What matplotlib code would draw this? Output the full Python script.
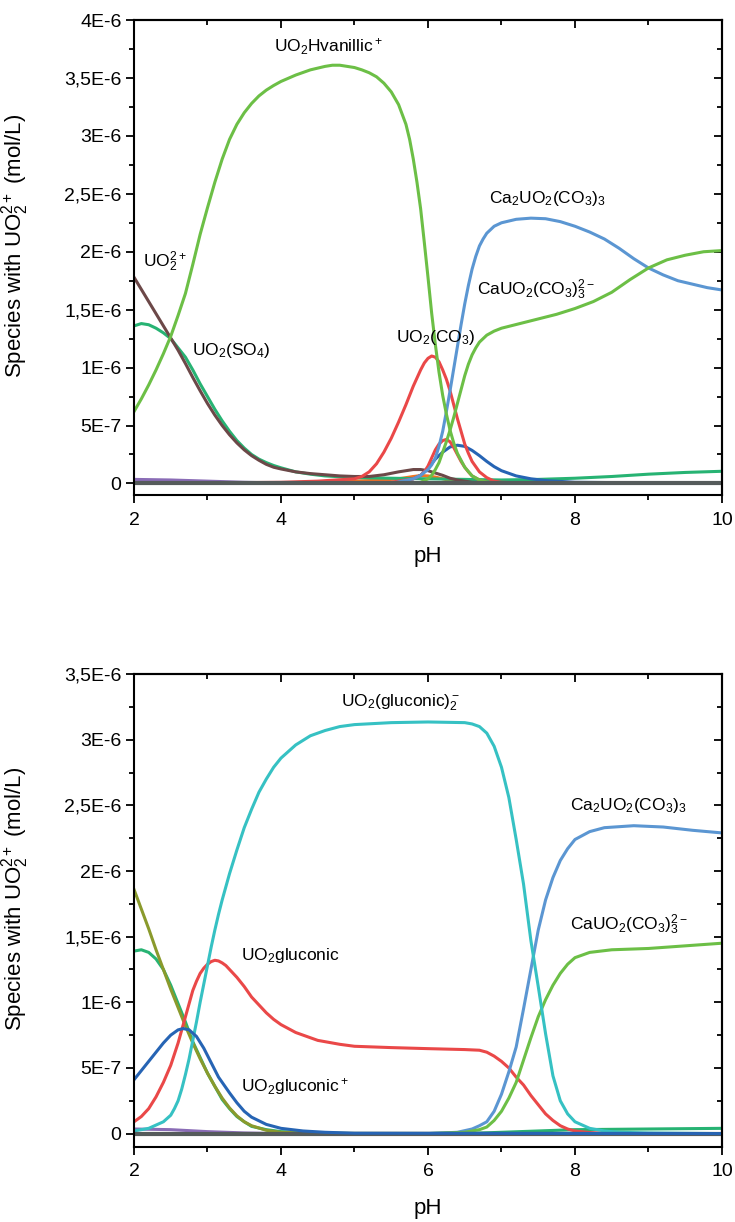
import matplotlib
matplotlib.use("Agg")
import matplotlib.pyplot as plt
from matplotlib.ticker import FixedLocator, MultipleLocator

plt.rcParams['font.family'] = ['Liberation Sans', 'DejaVu Sans']
plt.rcParams['mathtext.fontset'] = 'custom'
plt.rcParams['mathtext.rm'] = 'Liberation Sans'
plt.rcParams['mathtext.it'] = 'Liberation Sans:italic'
plt.rcParams['mathtext.bf'] = 'Liberation Sans:bold'

# ---------------- top panel (vanillic system), values in 1E-6 mol/L ----------------
top_vanillic_ph = [2.0, 2.1, 2.2, 2.3, 2.4, 2.5, 2.6, 2.7, 2.8, 2.9, 3.0, 3.1, 3.2, 3.3, 3.4,
                   3.5, 3.6, 3.7, 3.8, 3.9, 4.0, 4.2, 4.4, 4.6, 4.7, 4.8, 4.9, 5.0, 5.1, 5.2,
                   5.3, 5.4, 5.5, 5.6, 5.7, 5.75, 5.8, 5.85, 5.9, 5.95, 6.0, 6.05, 6.1, 6.15,
                   6.2, 6.25, 6.3, 6.35, 6.4, 6.5, 6.6, 6.7, 6.8, 6.9, 7.0, 10.0]
top_vanillic = [0.62, 0.73, 0.85, 0.98, 1.12, 1.27, 1.45, 1.64, 1.89, 2.15, 2.38, 2.60, 2.80,
                2.97, 3.10, 3.20, 3.28, 3.345, 3.395, 3.435, 3.47, 3.525, 3.57, 3.60, 3.61,
                3.61, 3.60, 3.59, 3.57, 3.545, 3.51, 3.455, 3.38, 3.27, 3.10, 2.97, 2.80,
                2.60, 2.37, 2.08, 1.78, 1.47, 1.20, 0.96, 0.76, 0.60, 0.46, 0.35, 0.26,
                0.14, 0.065, 0.03, 0.012, 0.005, 0.0, 0.0]

top_caco3_ph = [2.0, 5.8, 5.9, 6.0, 6.05, 6.1, 6.15, 6.2, 6.25, 6.3, 6.35, 6.4, 6.45, 6.5,
                6.55, 6.6, 6.65, 6.7, 6.8, 6.9, 7.0, 7.25, 7.5, 7.75, 8.0, 8.25, 8.5, 8.75,
                9.0, 9.25, 9.5, 9.75, 10.0]
top_caco3 = [0.0, 0.0, 0.01, 0.04, 0.07, 0.12, 0.18, 0.27, 0.36, 0.46, 0.57, 0.69, 0.81, 0.93,
             1.03, 1.11, 1.17, 1.22, 1.28, 1.315, 1.34, 1.38, 1.42, 1.46, 1.51, 1.57, 1.65,
             1.76, 1.86, 1.93, 1.97, 2.0, 2.01]

top_ca2_ph = [2.0, 5.5, 5.8, 5.9, 6.0, 6.05, 6.1, 6.15, 6.2, 6.25, 6.3, 6.35, 6.4, 6.45, 6.5,
              6.55, 6.6, 6.65, 6.7, 6.75, 6.8, 6.9, 7.0, 7.2, 7.4, 7.6, 7.8, 8.0, 8.2, 8.4,
              8.6, 8.8, 9.0, 9.2, 9.4, 9.6, 9.8, 10.0]
top_ca2 = [0.0, 0.0, 0.04, 0.07, 0.12, 0.16, 0.22, 0.32, 0.45, 0.62, 0.80, 0.99, 1.18, 1.37,
           1.55, 1.71, 1.85, 1.96, 2.05, 2.11, 2.16, 2.22, 2.25, 2.28, 2.29, 2.285, 2.26,
           2.22, 2.17, 2.11, 2.03, 1.94, 1.86, 1.80, 1.75, 1.72, 1.69, 1.67]

top_co3_ph = [2.0, 4.0, 4.5, 5.0, 5.1, 5.2, 5.3, 5.4, 5.5, 5.6, 5.7, 5.8, 5.9, 5.95, 6.0,
              6.05, 6.1, 6.15, 6.2, 6.25, 6.3, 6.35, 6.4, 6.45, 6.5, 6.55, 6.6, 6.7, 6.8,
              6.9, 7.0, 7.5, 10.0]
top_co3 = [0.0, 0.01, 0.02, 0.04, 0.06, 0.10, 0.17, 0.27, 0.39, 0.53, 0.68, 0.84, 0.98, 1.04,
           1.08, 1.10, 1.09, 1.05, 0.98, 0.90, 0.80, 0.68, 0.56, 0.45, 0.34, 0.26, 0.19,
           0.10, 0.05, 0.02, 0.01, 0.0, 0.0]

top_red2_ph = [2.0, 5.5, 5.8, 5.9, 5.95, 6.0, 6.05, 6.1, 6.15, 6.2, 6.25, 6.3, 6.35, 6.4,
               6.45, 6.5, 6.55, 6.6, 6.7, 6.8, 7.0, 10.0]
top_red2 = [0.0, 0.01, 0.04, 0.07, 0.10, 0.15, 0.22, 0.29, 0.34, 0.37, 0.38, 0.36, 0.31, 0.25,
            0.19, 0.14, 0.10, 0.065, 0.03, 0.01, 0.0, 0.0]

top_dblue_ph = [2.0, 5.5, 5.8, 5.9, 6.0, 6.1, 6.2, 6.3, 6.4, 6.5, 6.6, 6.7, 6.8, 6.9, 7.0,
                7.2, 7.4, 7.6, 8.0, 10.0]
top_dblue = [0.0, 0.0, 0.04, 0.07, 0.13, 0.21, 0.27, 0.315, 0.33, 0.32, 0.285, 0.24, 0.19,
             0.145, 0.11, 0.065, 0.04, 0.025, 0.01, 0.0]

top_uo2_ph = [2.0, 2.1, 2.2, 2.3, 2.4, 2.5, 2.6, 2.7, 2.8, 2.9, 3.0, 3.1, 3.2, 3.3, 3.4, 3.5,
              3.6, 3.7, 3.8, 3.9, 4.0, 4.2, 4.4, 4.6, 4.8, 5.0, 5.2, 5.4, 5.6, 5.8, 5.9,
              6.0, 6.1, 6.2, 6.3, 6.4, 6.6, 7.0, 10.0]
top_uo2 = [1.78, 1.675, 1.57, 1.465, 1.36, 1.255, 1.15, 1.035, 0.915, 0.80, 0.69, 0.59, 0.50,
           0.42, 0.35, 0.29, 0.24, 0.20, 0.165, 0.14, 0.125, 0.10, 0.085, 0.075, 0.065,
           0.06, 0.06, 0.075, 0.10, 0.12, 0.12, 0.11, 0.09, 0.07, 0.045, 0.03, 0.01, 0.0,
           0.0]

top_so4_ph = [2.0, 2.1, 2.2, 2.3, 2.4, 2.5, 2.6, 2.7, 2.8, 2.9, 3.0, 3.1, 3.2, 3.3, 3.4, 3.5,
              3.6, 3.7, 3.8, 3.9, 4.0, 4.2, 4.4, 4.6, 5.0, 5.5, 6.0, 6.5, 7.0, 7.5, 8.0,
              8.5, 9.0, 9.5, 10.0]
top_so4 = [1.36, 1.38, 1.37, 1.34, 1.30, 1.25, 1.17, 1.09, 0.98, 0.86, 0.75, 0.64, 0.54, 0.45,
           0.37, 0.305, 0.25, 0.21, 0.18, 0.155, 0.135, 0.10, 0.08, 0.065, 0.05, 0.045,
           0.04, 0.035, 0.03, 0.035, 0.045, 0.06, 0.08, 0.095, 0.105]

top_orange_ph = [2.0, 4.0, 5.0, 5.4, 5.6, 5.8, 5.9, 6.0, 6.1, 6.2, 6.3, 6.5, 7.0, 10.0]
top_orange = [0.0, 0.005, 0.02, 0.03, 0.04, 0.06, 0.068, 0.065, 0.055, 0.04, 0.025, 0.01,
              0.0, 0.0]

top_purple_ph = [2.0, 2.5, 3.0, 3.5, 4.0, 5.0, 10.0]
top_purple = [0.035, 0.03, 0.02, 0.01, 0.004, 0.0, 0.0]

# ---------------- bottom panel (gluconic system) ----------------
bot_glu2_ph = [2.0, 2.2, 2.4, 2.5, 2.55, 2.6, 2.65, 2.7, 2.75, 2.8, 2.85, 2.9, 2.95, 3.0, 3.05,
               3.1, 3.15, 3.2, 3.3, 3.4, 3.5, 3.6, 3.7, 3.8, 3.9, 4.0, 4.2, 4.4, 4.6, 4.8,
               5.0, 5.5, 6.0, 6.5, 6.6, 6.7, 6.8, 6.9, 7.0, 7.1, 7.2, 7.3, 7.4, 7.5, 7.6,
               7.7, 7.8, 7.9, 8.0, 8.2, 8.4, 8.6, 9.0, 10.0]
bot_glu2 = [0.02, 0.04, 0.09, 0.14, 0.19, 0.25, 0.34, 0.45, 0.57, 0.71, 0.85, 1.0, 1.14, 1.28,
            1.42, 1.55, 1.67, 1.78, 1.98, 2.16, 2.33, 2.47, 2.60, 2.70, 2.79, 2.86, 2.96,
            3.03, 3.07, 3.10, 3.115, 3.13, 3.135, 3.13, 3.12, 3.10, 3.05, 2.95, 2.79, 2.56,
            2.24, 1.90, 1.47, 1.12, 0.76, 0.44, 0.25, 0.15, 0.09, 0.04, 0.02, 0.01, 0.005,
            0.0]

bot_ca2_ph = [2.0, 6.0, 6.4, 6.6, 6.7, 6.8, 6.9, 7.0, 7.1, 7.2, 7.3, 7.4, 7.5, 7.6, 7.7, 7.8,
              7.9, 8.0, 8.2, 8.4, 8.8, 9.2, 9.6, 10.0]
bot_ca2 = [0.0, 0.0, 0.01, 0.035, 0.06, 0.09, 0.17, 0.30, 0.47, 0.66, 0.95, 1.25, 1.55, 1.78,
           1.95, 2.08, 2.17, 2.24, 2.30, 2.33, 2.345, 2.335, 2.31, 2.29]

bot_caco3_ph = [2.0, 6.0, 6.5, 6.7, 6.8, 6.9, 7.0, 7.1, 7.2, 7.3, 7.4, 7.5, 7.6, 7.7, 7.8, 7.9,
                8.0, 8.2, 8.5, 9.0, 9.5, 10.0]
bot_caco3 = [0.0, 0.0, 0.01, 0.03, 0.05, 0.10, 0.17, 0.27, 0.39, 0.56, 0.73, 0.89, 1.02, 1.13,
             1.22, 1.29, 1.34, 1.38, 1.40, 1.41, 1.43, 1.45]

bot_glu_ph = [2.0, 2.1, 2.2, 2.3, 2.4, 2.5, 2.6, 2.7, 2.8, 2.85, 2.9, 2.95, 3.0, 3.05, 3.1,
              3.15, 3.2, 3.25, 3.3, 3.4, 3.5, 3.6, 3.7, 3.8, 3.9, 4.0, 4.2, 4.5, 4.8, 5.0,
              5.5, 6.0, 6.5, 6.7, 6.8, 6.9, 7.0, 7.1, 7.2, 7.3, 7.4, 7.5, 7.6, 7.7, 7.8,
              7.9, 8.0, 8.2, 8.5, 10.0]
bot_glu = [0.09, 0.13, 0.19, 0.28, 0.39, 0.52, 0.69, 0.89, 1.09, 1.16, 1.22, 1.26, 1.29, 1.31,
           1.32, 1.315, 1.30, 1.28, 1.25, 1.19, 1.12, 1.04, 0.98, 0.92, 0.87, 0.83, 0.77,
           0.71, 0.68, 0.665, 0.655, 0.647, 0.64, 0.635, 0.62, 0.59, 0.55, 0.50, 0.43,
           0.37, 0.29, 0.22, 0.15, 0.10, 0.06, 0.035, 0.02, 0.008, 0.0, 0.0]

bot_glup_ph = [2.0, 2.1, 2.2, 2.3, 2.4, 2.5, 2.6, 2.67, 2.75, 2.85, 2.95, 3.05, 3.15, 3.3, 3.4,
               3.5, 3.6, 3.8, 4.0, 4.3, 4.6, 5.0, 10.0]
bot_glup = [0.41, 0.48, 0.55, 0.62, 0.69, 0.75, 0.79, 0.80, 0.79, 0.74, 0.65, 0.54, 0.43,
            0.31, 0.235, 0.17, 0.125, 0.07, 0.04, 0.02, 0.01, 0.003, 0.0]

bot_so4_ph = [2.0, 2.1, 2.2, 2.3, 2.4, 2.5, 2.6, 2.7, 2.8, 2.9, 3.0, 3.1, 3.2, 3.3, 3.4, 3.5,
              3.6, 3.8, 4.0, 4.5, 5.0, 6.5, 7.0, 7.5, 8.0, 9.0, 10.0]
bot_so4 = [1.39, 1.40, 1.38, 1.33, 1.25, 1.13, 0.99, 0.85, 0.70, 0.58, 0.46, 0.36, 0.26, 0.19,
           0.13, 0.09, 0.055, 0.03, 0.015, 0.005, 0.0, 0.0, 0.01, 0.02, 0.03, 0.035, 0.04]

bot_uo2_ph = [2.0, 2.1, 2.2, 2.3, 2.4, 2.5, 2.6, 2.7, 2.8, 2.9, 3.0, 3.1, 3.2, 3.3, 3.4, 3.5,
              3.6, 3.8, 4.0, 4.5, 10.0]
bot_uo2 = [1.86, 1.71, 1.56, 1.40, 1.25, 1.10, 0.96, 0.82, 0.69, 0.57, 0.46, 0.36, 0.27, 0.195,
           0.135, 0.09, 0.06, 0.025, 0.01, 0.002, 0.0]

bot_purple_ph = [2.0, 2.5, 3.0, 3.5, 4.0, 10.0]
bot_purple = [0.035, 0.03, 0.015, 0.005, 0.0, 0.0]

zero_ph = [2.0, 10.0]
zero_line = [0.0, 0.0]

x_ticks = [2, 4, 6, 8, 10]
top_yticks = [0, 0.5, 1.0, 1.5, 2.0, 2.5, 3.0, 3.5, 4.0]
top_ylabels = ['0', '5E-7', '1E-6', '1,5E-6', '2E-6', '2,5E-6', '3E-6', '3,5E-6', '4E-6']
bot_yticks = [0, 0.5, 1.0, 1.5, 2.0, 2.5, 3.0, 3.5]
bot_ylabels = ['0', '5E-7', '1E-6', '1,5E-6', '2E-6', '2,5E-6', '3E-6', '3,5E-6']

C_GREEN = '#6cbf46'
C_LBLUE = '#5b96d2'
C_RED = '#ea4848'
C_DBLUE = '#2664b4'
C_BROWN = '#6c4848'
C_TEAL = '#27b373'
C_ORANGE = '#f27622'
C_PURPLE = '#8a6cb6'
C_GRAY = '#555b5b'
C_CYAN = '#36c1c3'
C_OLIVE = '#8a9a2c'

LW = 2.2
TICK_FS = 14
LABEL_FS = 16
ANN_FS = 12.5


def style_axes(ax, ymax, yticks, ylabels):
    ax.set_xlim(2, 10)
    ax.set_ylim(-0.1, ymax)
    ax.xaxis.set_major_locator(FixedLocator(x_ticks))
    ax.xaxis.set_minor_locator(MultipleLocator(1))
    ax.set_xticklabels([str(t) for t in x_ticks])
    ax.yaxis.set_major_locator(FixedLocator(yticks))
    ax.yaxis.set_minor_locator(MultipleLocator(0.25))
    ax.set_yticklabels(ylabels)
    for s in ax.spines.values():
        s.set_linewidth(1.5)
    ax.tick_params(which='both', direction='out', width=1.3, top=False, right=False,
                   labelsize=TICK_FS)
    ax.tick_params(which='major', length=6)
    ax.tick_params(which='minor', length=3.5)
    ax.tick_params(axis='x', pad=6)
    ax.tick_params(axis='y', pad=3)

    sx = ax.secondary_xaxis('top')
    sx.xaxis.set_major_locator(FixedLocator(x_ticks))
    sx.xaxis.set_minor_locator(MultipleLocator(1))
    sx.tick_params(which='both', direction='in', width=1.3, labeltop=False)
    sx.tick_params(which='major', length=6)
    sx.tick_params(which='minor', length=3.5)
    sx.spines['top'].set_linewidth(1.5)

    sy = ax.secondary_yaxis('right')
    sy.yaxis.set_major_locator(FixedLocator(yticks))
    sy.yaxis.set_minor_locator(MultipleLocator(0.25))
    sy.tick_params(which='both', direction='in', width=1.3, labelright=False)
    sy.tick_params(which='major', length=6)
    sy.tick_params(which='minor', length=3.5)
    sy.spines['right'].set_linewidth(1.5)

    ax.set_xlabel('pH', fontsize=LABEL_FS)
    ax.set_ylabel('Species with UO$_2^{2+}$ (mol/L)', fontsize=LABEL_FS)
    ax.xaxis.set_label_coords(0.5, -0.108)
    ax.yaxis.set_label_coords(-0.175, 0.525)


fig = plt.figure(figsize=(7.35, 12.22), dpi=100)

# top panel
ax1 = fig.add_axes([0.1823, 0.5949, 0.8000, 0.3887])
ax1.plot(top_purple_ph, top_purple, color=C_PURPLE, lw=LW)
ax1.plot(top_orange_ph, top_orange, color=C_ORANGE, lw=LW)
ax1.plot(top_so4_ph, top_so4, color=C_TEAL, lw=LW)
ax1.plot(top_uo2_ph, top_uo2, color=C_BROWN, lw=LW)
ax1.plot(top_dblue_ph, top_dblue, color=C_DBLUE, lw=LW)
ax1.plot(top_red2_ph, top_red2, color=C_RED, lw=LW)
ax1.plot(top_co3_ph, top_co3, color=C_RED, lw=LW)
ax1.plot(top_ca2_ph, top_ca2, color=C_LBLUE, lw=LW)
ax1.plot(top_caco3_ph, top_caco3, color=C_GREEN, lw=LW)
ax1.plot(top_vanillic_ph, top_vanillic, color=C_GREEN, lw=LW)
ax1.plot(zero_ph, zero_line, color=C_GRAY, lw=3.0)
style_axes(ax1, 4.0, top_yticks, top_ylabels)

ax1.text(4.64, 3.77, 'UO$_2$Hvanillic$^+$', fontsize=ANN_FS, ha='center', va='center')
ax1.text(2.12, 1.91, 'UO$_2^{2+}$', fontsize=ANN_FS, ha='left', va='center')
ax1.text(2.79, 1.15, 'UO$_2$(SO$_4$)', fontsize=ANN_FS, ha='left', va='center')
ax1.text(5.56, 1.26, 'UO$_2$(CO$_3$)', fontsize=ANN_FS, ha='left', va='center')
ax1.text(6.83, 2.46, 'Ca$_2$UO$_2$(CO$_3$)$_3$', fontsize=ANN_FS, ha='left', va='center')
ax1.text(6.67, 1.67, 'CaUO$_2$(CO$_3$)$_3^{2-}$', fontsize=ANN_FS, ha='left', va='center')

# bottom panel
ax2 = fig.add_axes([0.1823, 0.0616, 0.8000, 0.3868])
ax2.plot(bot_purple_ph, bot_purple, color=C_PURPLE, lw=LW)
ax2.plot(bot_so4_ph, bot_so4, color=C_TEAL, lw=LW)
ax2.plot(bot_uo2_ph, bot_uo2, color=C_OLIVE, lw=LW)
ax2.plot(bot_glu_ph, bot_glu, color=C_RED, lw=LW)
ax2.plot(bot_ca2_ph, bot_ca2, color=C_LBLUE, lw=LW)
ax2.plot(bot_caco3_ph, bot_caco3, color=C_GREEN, lw=LW)
ax2.plot(bot_glu2_ph, bot_glu2, color=C_CYAN, lw=LW)
ax2.plot(zero_ph, zero_line, color=C_GRAY, lw=3.0)
ax2.plot(bot_glup_ph, bot_glup, color=C_DBLUE, lw=LW)
style_axes(ax2, 3.5, bot_yticks, bot_ylabels)

ax2.text(5.63, 3.28, 'UO$_2$(gluconic)$_2^-$', fontsize=ANN_FS, ha='center', va='center')
ax2.text(7.93, 2.50, 'Ca$_2$UO$_2$(CO$_3$)$_3$', fontsize=ANN_FS, ha='left', va='center')
ax2.text(7.93, 1.59, 'CaUO$_2$(CO$_3$)$_3^{2-}$', fontsize=ANN_FS, ha='left', va='center')
ax2.text(3.46, 1.36, 'UO$_2$gluconic', fontsize=ANN_FS, ha='left', va='center')
ax2.text(3.46, 0.355, 'UO$_2$gluconic$^+$', fontsize=ANN_FS, ha='left', va='center')

fig.savefig('out.png', dpi=100)
